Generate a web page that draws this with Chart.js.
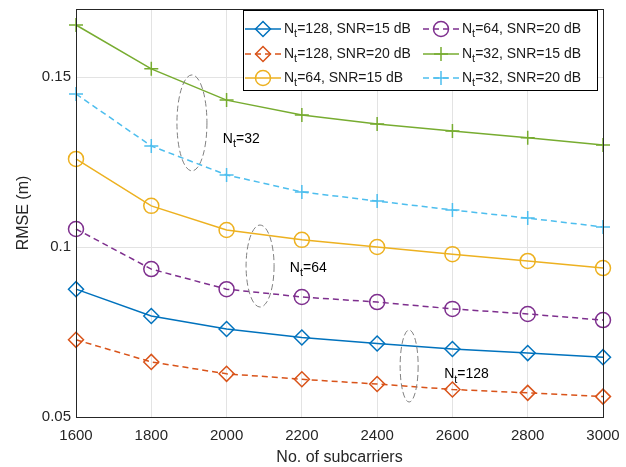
<!DOCTYPE html>
<html lang="en">
<head>
<meta charset="UTF-8">
<title>RMSE vs subcarriers</title>
<script src="https://cdn.jsdelivr.net/npm/chart.js@4.5.0/dist/chart.umd.min.js"></script>
<style>
  body { margin: 0; background: #fff; }
  #wrap { width: 626px; height: 467px; }
</style>
</head>
<body>
<div id="wrap"><canvas id="myChart" width="626" height="467"></canvas></div>
<script>
// data
const subcarriers = [1600, 1800, 2000, 2200, 2400, 2600, 2800, 3000];
const nt128snr15 = [0.0876, 0.0797, 0.0759, 0.0734, 0.0716, 0.0700, 0.0688, 0.0676];
const nt128snr20 = [0.0727, 0.0662, 0.0627, 0.0611, 0.0597, 0.0581, 0.0571, 0.0560];
const nt64snr15 = [0.1259, 0.1121, 0.1050, 0.1021, 0.1000, 0.0979, 0.0959, 0.0938];
const nt64snr20 = [0.1053, 0.0935, 0.0876, 0.0853, 0.0838, 0.0818, 0.0803, 0.0785];
const nt32snr15 = [0.1653, 0.1524, 0.1432, 0.1388, 0.1362, 0.1341, 0.1321, 0.1300];
const nt32snr20 = [0.1450, 0.1297, 0.1212, 0.1162, 0.1135, 0.1109, 0.1085, 0.1059];
const yTicks = [0.05, 0.1, 0.15];

// legend text: [Nt part, rest]
const legendNames = [
  ['=128', ', SNR=15 dB'],
  ['=128', ', SNR=20 dB'],
  ['=64', ', SNR=15 dB'],
  ['=64', ', SNR=20 dB'],
  ['=32', ', SNR=15 dB'],
  ['=32', ', SNR=20 dB']
];

// group notes: ellipse centre in data units, label anchor in data units
const groupNotes = [
  { label: '=32', cx: 1908, cy: 0.1365, rx: 15, ry: 48, tx: 1990, ty: 0.1318 },
  { label: '=64', cx: 2089, cy: 0.0944, rx: 14, ry: 41, tx: 2168, ty: 0.0938 },
  { label: '=128', cx: 2485, cy: 0.0650, rx: 9, ry: 36, tx: 2578, ty: 0.0626 }
];

const FONT = 'Liberation Sans, Arial, Helvetica, sans-serif';

function series(i, data, color, style, dashed) {
  return {
    label: 'Nt' + legendNames[i][0] + legendNames[i][1],
    data: subcarriers.map((x, k) => ({ x: x, y: data[k] })),
    borderColor: color,
    backgroundColor: color,
    borderWidth: 1.5,
    borderDash: dashed ? [6, 4] : [],
    pointStyle: style,
    pointRadius: style === 'cross' ? 7 : 7.5,
    pointBorderWidth: 1.5,
    pointBorderColor: color,
    pointBackgroundColor: 'rgba(0,0,0,0)',
    tension: 0,
    clip: false
  };
}

// draws "N" + subscript t + rest, returns end x
function drawNt(ctx, x, y, tail, size) {
  ctx.textBaseline = 'middle';
  ctx.textAlign = 'left';
  ctx.font = size + 'px ' + FONT;
  ctx.fillText('N', x, y);
  x += ctx.measureText('N').width;
  ctx.font = Math.round(size * 0.75) + 'px ' + FONT;
  ctx.fillText('t', x, y + size * 0.38);
  x += ctx.measureText('t').width;
  ctx.font = size + 'px ' + FONT;
  ctx.fillText(tail, x, y);
  return x + ctx.measureText(tail).width;
}

const framePlugin = {
  id: 'frame',
  afterDatasetsDraw(chart) {
    const ctx = chart.ctx;
    const a = chart.chartArea;
    const xs = chart.scales.x, ys = chart.scales.y;
    ctx.save();

    // group ellipses + labels
    ctx.strokeStyle = '#808080';
    ctx.lineWidth = 1;
    ctx.setLineDash([6, 3]);
    groupNotes.forEach(n => {
      ctx.beginPath();
      ctx.ellipse(xs.getPixelForValue(n.cx), ys.getPixelForValue(n.cy), n.rx, n.ry, 0, 0, Math.PI * 2);
      ctx.stroke();
    });
    ctx.setLineDash([]);
    ctx.fillStyle = '#000';
    groupNotes.forEach(n => {
      drawNt(ctx, xs.getPixelForValue(n.tx), ys.getPixelForValue(n.ty), n.label, 14);
    });

    // axes box
    ctx.strokeStyle = '#262626';
    ctx.lineWidth = 1;
    ctx.strokeRect(Math.round(a.left) + 0.5, Math.round(a.top) + 0.5,
      Math.round(a.right - a.left), Math.round(a.bottom - a.top));

    // legend, two columns, column-major
    const boxL = a.left + 167, boxT = a.top + 1, boxW = 354, boxH = 80;
    ctx.fillStyle = '#fff';
    ctx.fillRect(boxL, boxT, boxW, boxH);
    ctx.strokeStyle = '#000';
    ctx.strokeRect(boxL + 0.5, boxT + 0.5, boxW, boxH);
    const colX = [boxL + 2, boxL + 180];
    const rowY = [boxT + 19, boxT + 44, boxT + 68];
    chart.data.datasets.forEach((ds, i) => {
      const col = Math.floor(i / 3), row = i % 3;
      const x0 = colX[col], y0 = rowY[row];
      ctx.strokeStyle = ds.borderColor;
      ctx.lineWidth = 1.5;
      ctx.setLineDash(ds.borderDash);
      ctx.beginPath();
      ctx.moveTo(x0, y0);
      ctx.lineTo(x0 + 36, y0);
      ctx.stroke();
      ctx.setLineDash([]);
      ctx.fillStyle = 'rgba(0,0,0,0)';
      Chart.helpers.drawPoint(ctx, {
        pointStyle: ds.pointStyle, radius: ds.pointRadius, borderWidth: 1.5, rotation: 0
      }, x0 + 18, y0);
      ctx.fillStyle = '#1a1a1a';
      drawNt(ctx, x0 + 39, y0, legendNames[i][0] + legendNames[i][1], 14);
    });
    ctx.restore();
  }
};

new Chart(document.getElementById('myChart'), {
  type: 'line',
  data: {
    datasets: [
      series(0, nt128snr15, '#0072BD', 'rectRot', false),
      series(1, nt128snr20, '#D95319', 'rectRot', true),
      series(2, nt64snr15, '#EDB120', 'circle', false),
      series(3, nt64snr20, '#7E2F8E', 'circle', true),
      series(4, nt32snr15, '#77AC30', 'cross', false),
      series(5, nt32snr20, '#4DBEEE', 'cross', true)
    ]
  },
  options: {
    responsive: false,
    devicePixelRatio: 1,
    animation: false,
    layout: { padding: { top: 7, right: 23, left: 0, bottom: 0 } },
    plugins: { legend: { display: false }, tooltip: { enabled: false } },
    scales: {
      x: {
        type: 'linear',
        min: 1600, max: 3000,
        afterFit(s) { s.height = 50; s.paddingLeft = 0; s.paddingRight = 0; },
        ticks: { stepSize: 200, color: '#262626', font: { family: FONT, size: 15 }, padding: 10,
          callback: v => String(v) },
        grid: { color: '#e3e3e3', drawTicks: false },
        border: { color: '#262626' },
        title: { display: true, text: 'No. of subcarriers', color: '#262626',
          font: { family: FONT, size: 16 }, padding: { top: 0, bottom: 0 } }
      },
      y: {
        min: 0.05, max: 0.17,
        afterFit(s) { s.width = 76; s.paddingTop = 0; },
        afterBuildTicks(s) { s.ticks = yTicks.map(v => ({ value: v })); },
        ticks: { color: '#262626', font: { family: FONT, size: 15 }, padding: 5,
          callback: v => String(v) },
        grid: { color: '#e3e3e3', drawTicks: false },
        border: { color: '#262626' },
        title: { display: true, text: 'RMSE (m)', color: '#262626',
          font: { family: FONT, size: 16 }, padding: { top: 14, bottom: 0 } }
      }
    }
  },
  plugins: [framePlugin]
});
</script>
</body>
</html>
